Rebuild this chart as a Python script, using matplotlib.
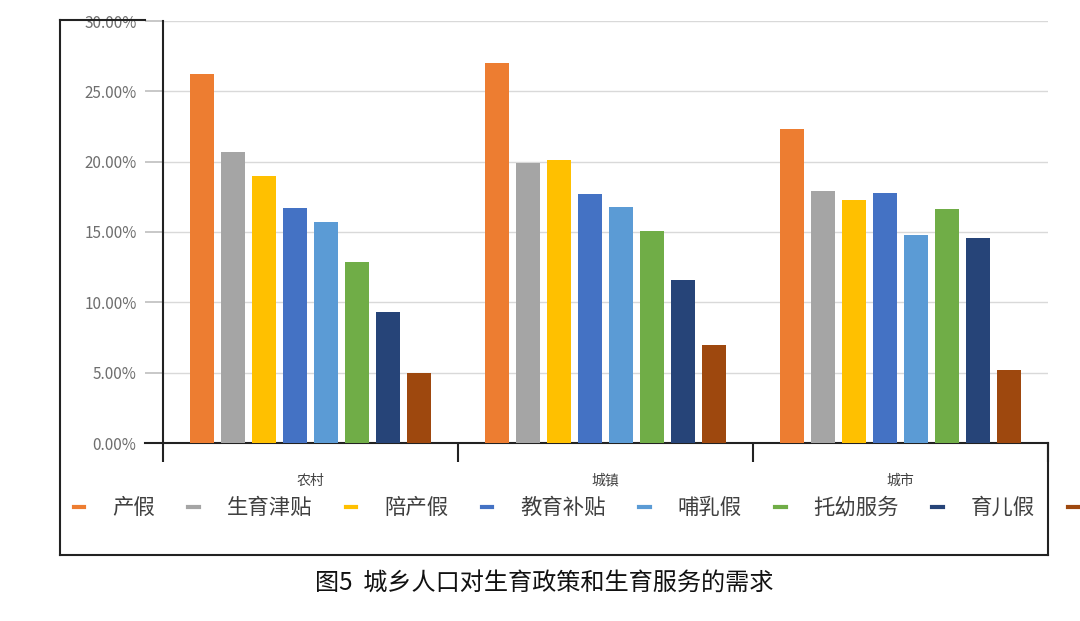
import numpy as np
import matplotlib
matplotlib.use('Agg')
import matplotlib.pyplot as plt
from matplotlib.lines import Line2D
from matplotlib.ticker import FuncFormatter

plt.rcParams['font.family'] = ['Noto Sans CJK SC', 'DejaVu Sans']

regions = ['农村', '城镇', '城市']
series = ['产假', '生育津贴', '陪产假', '教育补贴', '哺乳假', '托幼服务', '育儿假', '其他']
values = [
    [26.2, 27.0, 22.3],   # 产假
    [20.7, 19.9, 17.9],   # 生育津贴
    [19.0, 20.1, 17.3],   # 陪产假
    [16.7, 17.7, 17.8],   # 教育补贴
    [15.7, 16.8, 14.8],   # 哺乳假
    [12.9, 15.1, 16.6],   # 托幼服务
    [9.3, 11.6, 14.6],    # 育儿假
    [5.0, 7.0, 5.2],      # 其他 (legend text cut off in the picture)
]
colors = ['#ED7D31', '#A5A5A5', '#FFC000', '#4472C4', '#5B9BD5', '#70AD47', '#264478', '#9E480E']
title = '图5  城乡人口对生育政策和生育服务的需求'

fig = plt.figure(figsize=(10.8, 6.21), dpi=100)
ax = fig.add_axes([163/1080, 1-443/621, (1048-163)/1080, (443-21)/621])

x = np.arange(len(regions))
pitch = 0.105
width = 0.082
for j, (name, vals) in enumerate(zip(series, values)):
    ax.bar(x + (j - 3.5) * pitch, vals, width=width, color=colors[j], label=name, zorder=3)

ax.set_xlim(-0.5, 2.5)
ax.set_ylim(0, 30)
ax.set_yticks(np.arange(0, 31, 5))
ax.yaxis.set_major_formatter(FuncFormatter(lambda v, p: f'{v:.2f}%'))
ax.grid(axis='y', color='#D9D9D9', linewidth=1, zorder=0)
ax.tick_params(axis='y', length=13, width=1.2, color='#BFBFBF', labelsize=11,
               labelcolor='#6E6E6E', pad=6)

ax.set_xticks([-0.5, 0.5, 1.5, 2.5])
ax.set_xticklabels([])
ax.set_xticks(x, minor=True)
ax.set_xticklabels(regions, minor=True)
ax.tick_params(axis='x', which='major', length=14, width=1.5, color='#222222', direction='out')
ax.tick_params(axis='x', which='minor', length=0, labelsize=10, labelcolor='#404040', pad=22)

for s in ['top', 'right']:
    ax.spines[s].set_visible(False)
ax.spines['left'].set_linewidth(1.5)
ax.spines['left'].set_color('#222222')
ax.spines['bottom'].set_linewidth(1.5)
ax.spines['bottom'].set_color('#222222')

# dark zero tick line
ax.plot([-0.5 - 18/295, -0.5], [0, 0], color='#222222', linewidth=1.5, clip_on=False, zorder=4)

# outer frame
def fline(x0, y0, x1, y1, lw=1.5):
    fig.add_artist(Line2D([x0/1080, x1/1080], [1-y0/621, 1-y1/621], color='#222222', linewidth=lw))

fline(60, 20, 60, 555)
fline(60, 555, 1048, 555)
fline(1048, 443, 1048, 555)
fline(60, 20, 145, 20)

handles = [Line2D([], [], color=c, linewidth=3) for c in colors]
legend_labels = series[:7] + ['']
fig.legend(handles, legend_labels, loc='center left', bbox_to_anchor=(65/1080, 1-508/621),
           ncol=8, frameon=False, fontsize=15.4, labelcolor='#404040',
           handlelength=0.5, handletextpad=1.3, columnspacing=1.56, borderaxespad=0)

fig.text(544/1080, 1-583/621, title, ha='center', va='center', fontsize=17.4, color='#111111')

fig.savefig('out.png', dpi=100)
